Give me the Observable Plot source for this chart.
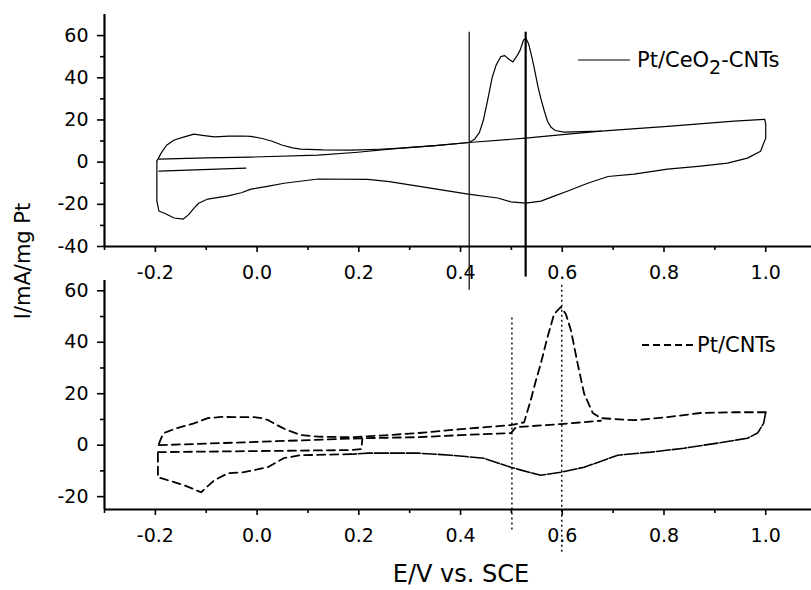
<!DOCTYPE html>
<html>
<head>
<meta charset="utf-8">
<script src="https://cdn.jsdelivr.net/npm/d3@7"></script>
<script src="https://cdn.jsdelivr.net/npm/@observablehq/plot@0.6"></script>
<style>
  html, body { margin: 0; padding: 0; background: #fff; }
  #wrap { position: relative; width: 811px; height: 590px; font-family: "DejaVu Sans", sans-serif; color: #000; overflow: hidden; }
  #wrap svg.chart { position: absolute; left: 0; overflow: visible; }
  .ttl { position: absolute; white-space: nowrap; }
  .leg { position: absolute; white-space: nowrap; line-height: 1; font-size: 21px; }
  .leg sub { font-size: 19px; vertical-align: -7px; line-height: 0; }
</style>
</head>
<body>
<div id="wrap"></div>
<script>
// ---------------- data (E / V vs. SCE, I / mA per mg Pt) ----------------
// Top panel: Pt/CeO2-CNTs (solid)
const ceForward = [[-0.197,0.5],[-0.188,4.5],[-0.178,8],[-0.163,10.5],[-0.143,12],[-0.124,13.3],[-0.104,12.6],[-0.084,12],[-0.055,12.3],[-0.031,12.4],[-0.012,12.2],[0.010,11.2],[0.028,10],[0.050,8],[0.070,6.8],[0.086,6.2],[0.130,5.8],[0.185,5.7],[0.240,6.1],[0.283,6.6],[0.350,7.8],[0.417,9.3],[0.428,11],[0.437,14],[0.445,20],[0.453,29],[0.462,40],[0.470,46],[0.479,50],[0.487,50.5],[0.495,48.8],[0.503,47.5],[0.510,50],[0.517,53],[0.524,58],[0.529,58.5],[0.534,56],[0.540,50],[0.545,44.5],[0.552,36],[0.558,30],[0.565,24],[0.571,19.4],[0.578,16.5],[0.586,15],[0.603,14.2],[0.676,14.7],[0.807,17],[0.938,19.4],[0.998,20.3]];
const ceReverse = [[0.998,20.3],[1.000,18],[1.000,11.4],[0.990,5.2],[0.964,1.9],[0.925,-0.5],[0.872,-1.9],[0.807,-3.3],[0.741,-5.7],[0.690,-6.8],[0.650,-10],[0.611,-13.7],[0.580,-16.5],[0.558,-18.5],[0.528,-19.4],[0.499,-18.8],[0.473,-17],[0.415,-15.2],[0.316,-11.4],[0.260,-9.2],[0.218,-8.2],[0.120,-8],[0.053,-10],[0.020,-11.5],[-0.012,-12.8],[-0.031,-14.5],[-0.057,-16],[-0.097,-17.5],[-0.115,-19.5],[-0.124,-21.8],[-0.135,-25],[-0.145,-27],[-0.163,-26.5],[-0.180,-24.5],[-0.193,-23.2],[-0.197,-18.5],[-0.197,-3],[-0.197,0.5]];
const ceSecond = [[-0.193,1.4],[-0.100,2.0],[-0.012,2.4],[0.120,3.3],[0.198,4.7],[0.250,5.9],[0.283,6.6],[0.350,7.8],[0.417,9.3],[0.528,11.4],[0.600,13],[0.676,14.7]];
const ceTail = [[-0.193,-4.3],[-0.022,-2.8]];
const ceMarkE = [0.417, 0.528];
const ceMarkTop = [61.6, 61.6];
const ceMarkBottom = [-60.7, -54.5];

// Bottom panel: Pt/CNTs (dashed)
const ptForward = [[-0.193,0.5],[-0.188,3],[-0.183,4.7],[-0.160,6.5],[-0.124,8.5],[-0.097,10.5],[-0.070,11],[-0.045,10.9],[-0.006,10.9],[0.010,10.5],[0.022,9.7],[0.047,7],[0.060,5.8],[0.086,3.9],[0.120,3.3],[0.185,3.1],[0.250,3.8],[0.316,4.7],[0.400,6.2],[0.499,7.8],[0.525,8.9],[0.538,17.5],[0.548,25],[0.558,31.9],[0.571,42],[0.584,51],[0.597,53.7],[0.607,51],[0.617,44.7],[0.630,31.9],[0.643,20],[0.660,12.5],[0.676,10.5],[0.741,9.7],[0.807,10.9],[0.872,12.5],[0.937,12.8],[1.000,12.8]];
const ptReverseA = [[1.000,12.8],[0.996,8.6],[0.984,4.7],[0.964,2.7],[0.905,0.8],[0.839,-1.2],[0.774,-2.7],[0.709,-3.9],[0.643,-8.6],[0.597,-10.5],[0.558,-11.7],[0.519,-9.7],[0.499,-8.6],[0.446,-5.1],[0.381,-3.9],[0.316,-3.1],[0.218,-3.1],[0.185,-3.5]];
const ptReverseB = [[0.185,-3.5],[0.086,-3.9],[0.053,-5],[0.022,-8.5],[-0.026,-10.5],[-0.057,-10.9],[-0.084,-13.6],[-0.110,-18.3],[-0.143,-15.6],[-0.189,-12.8],[-0.195,-12.5],[-0.195,-5.8],[-0.195,-2.5]];
const ptSecond = [[-0.193,0],[-0.012,1.2],[0.205,2.7],[0.316,3.1],[0.400,3.9],[0.499,4.7],[0.509,7],[0.597,8.2],[0.676,9.5]];
const ptThird = [[-0.195,-2.7],[0.185,-1.9],[0.205,-1.5],[0.207,2.5]];
const ptMarkE = [0.501, 0.599];
const ptMarkTop = [49.4, 62.3];
const ptMarkBottom = [-33, -41.6];

// Axis ticks and labels
const xMajor = [-0.2, 0.0, 0.2, 0.4, 0.6, 0.8, 1.0];
const xMinor = [-0.3, -0.1, 0.1, 0.3, 0.5, 0.7, 0.9];
const yTopMajor = [-40, -20, 0, 20, 40, 60];
const yTopMinor = [-30, -10, 10, 30, 50];
const yBotMajor = [-20, 0, 20, 40, 60];
const yBotMinor = [-10, 10, 30, 50];
const xTitle = "E/V vs. SCE";
const yTitle = "I/mA/mg Pt";
const legendTop = ["Pt/CeO", "2", "-CNTs"];
const legendBottom = "Pt/CNTs";

// ---------------- helpers ----------------
const rows = pairs => pairs.map(([E, I]) => ({E, I}));
const markerRows = (E, top, bottom) => E.map((e, i) => ({E: e, top: top[i], bottom: bottom[i]}));
const fmtX = d => d.toFixed(1);
const fmtY = d => String(d);
const style = {fontFamily: "DejaVu Sans", fontSize: "19px", background: "transparent", color: "#000", overflow: "visible"};

function axes(yMajor, yMinor, x0, y0) {
  return [
    Plot.axisX({ticks: xMajor, tickSize: 6, tickPadding: 13, tickFormat: fmtX, strokeWidth: 1.6, label: null}),
    Plot.axisX({ticks: xMinor, tickSize: 4, tickFormat: () => "", strokeWidth: 1.6, label: null}),
    Plot.axisY({ticks: yMajor, tickSize: 7, tickPadding: 9, tickFormat: fmtY, strokeWidth: 1.6, label: null}),
    Plot.axisY({ticks: yMinor, tickSize: 4, tickFormat: () => "", strokeWidth: 1.6, label: null}),
    Plot.ruleX([x0], {stroke: "#000", strokeWidth: 2.2}),
    Plot.ruleY([y0], {stroke: "#000", strokeWidth: 2.2})
  ];
}

const ceM = markerRows(ceMarkE, ceMarkTop, ceMarkBottom);
const topChart = Plot.plot({
  width: 811, height: 290,
  marginTop: 14, marginBottom: 44, marginLeft: 104, marginRight: 0,
  x: {domain: [-0.3, 1.09], label: null},
  y: {domain: [-40, 70], label: null},
  style,
  marks: [
    Plot.line(rows(ceForward), {x: "E", y: "I", stroke: "#000", strokeWidth: 1.2}),
    Plot.line(rows(ceReverse), {x: "E", y: "I", stroke: "#000", strokeWidth: 1.2}),
    Plot.line(rows(ceSecond), {x: "E", y: "I", stroke: "#000", strokeWidth: 1.2}),
    Plot.line(rows(ceTail), {x: "E", y: "I", stroke: "#000", strokeWidth: 1.2}),
    Plot.ruleX([ceM[0]], {x: "E", y1: "bottom", y2: "top", stroke: "#000", strokeWidth: 1.2}),
    Plot.ruleX([ceM[1]], {x: "E", y1: "bottom", y2: "top", stroke: "#000", strokeWidth: 2.2}),
    ...axes(yTopMajor, yTopMinor, -0.3, -40)
  ]
});

const ptM = markerRows(ptMarkE, ptMarkTop, ptMarkBottom);
const dash = "8,5";
const bottomChart = Plot.plot({
  width: 811, height: 310,
  marginTop: 0, marginBottom: 81, marginLeft: 104, marginRight: 0,
  x: {domain: [-0.3, 1.09], label: null},
  y: {domain: [-25, 64], label: null},
  style,
  marks: [
    Plot.line(rows(ptForward), {x: "E", y: "I", stroke: "#000", strokeWidth: 1.8, strokeDasharray: dash}),
    Plot.line(rows(ptReverseA), {x: "E", y: "I", stroke: "#000", strokeWidth: 1.6, strokeDasharray: "14,2"}),
    Plot.line(rows(ptReverseB), {x: "E", y: "I", stroke: "#000", strokeWidth: 1.8, strokeDasharray: dash}),
    Plot.line(rows(ptSecond), {x: "E", y: "I", stroke: "#000", strokeWidth: 1.8, strokeDasharray: dash}),
    Plot.line(rows(ptThird), {x: "E", y: "I", stroke: "#000", strokeWidth: 1.8, strokeDasharray: dash}),
    Plot.ruleX(ptM, {x: "E", y1: "bottom", y2: "top", stroke: "#000", strokeWidth: 1.4, strokeDasharray: "2,3"}),
    ...axes(yBotMajor, yBotMinor, -0.3, -25)
  ]
});

const wrap = document.getElementById("wrap");
topChart.classList.add("chart");
bottomChart.classList.add("chart");
topChart.style.top = "0px";
bottomChart.style.top = "280px";
wrap.appendChild(topChart);
wrap.appendChild(bottomChart);

// Titles
const xt = document.createElement("div");
xt.className = "ttl";
xt.textContent = xTitle;
Object.assign(xt.style, {left: "461px", top: "563px", fontSize: "24px", lineHeight: "22px", transform: "translateX(-50%)"});
wrap.appendChild(xt);

const yt = document.createElement("div");
yt.className = "ttl";
yt.textContent = yTitle;
Object.assign(yt.style, {left: "23px", top: "261px", fontSize: "21px", lineHeight: "22px", transform: "translate(-50%,-50%) rotate(-90deg)"});
wrap.appendChild(yt);

// Legends
function legendLine(left, top, w, dashed) {
  const ns = "http://www.w3.org/2000/svg";
  const s = document.createElementNS(ns, "svg");
  s.setAttribute("width", w); s.setAttribute("height", 4);
  Object.assign(s.style, {position: "absolute", left: left + "px", top: (top - 2) + "px"});
  const l = document.createElementNS(ns, "line");
  l.setAttribute("x1", 0); l.setAttribute("x2", w); l.setAttribute("y1", 2); l.setAttribute("y2", 2);
  l.setAttribute("stroke", "#000");
  l.setAttribute("stroke-width", dashed ? 1.8 : 1.1);
  if (dashed) l.setAttribute("stroke-dasharray", "7,4");
  s.appendChild(l);
  wrap.appendChild(s);
}
legendLine(578, 60, 52, false);
const lt = document.createElement("div");
lt.className = "leg";
lt.innerHTML = legendTop[0] + "<sub>" + legendTop[1] + "</sub>" + legendTop[2];
Object.assign(lt.style, {left: "637px", top: "50px"});
wrap.appendChild(lt);

legendLine(642, 345, 52, true);
const lb = document.createElement("div");
lb.className = "leg";
lb.textContent = legendBottom;
Object.assign(lb.style, {left: "697px", top: "335px"});
wrap.appendChild(lb);
</script>
</body>
</html>
